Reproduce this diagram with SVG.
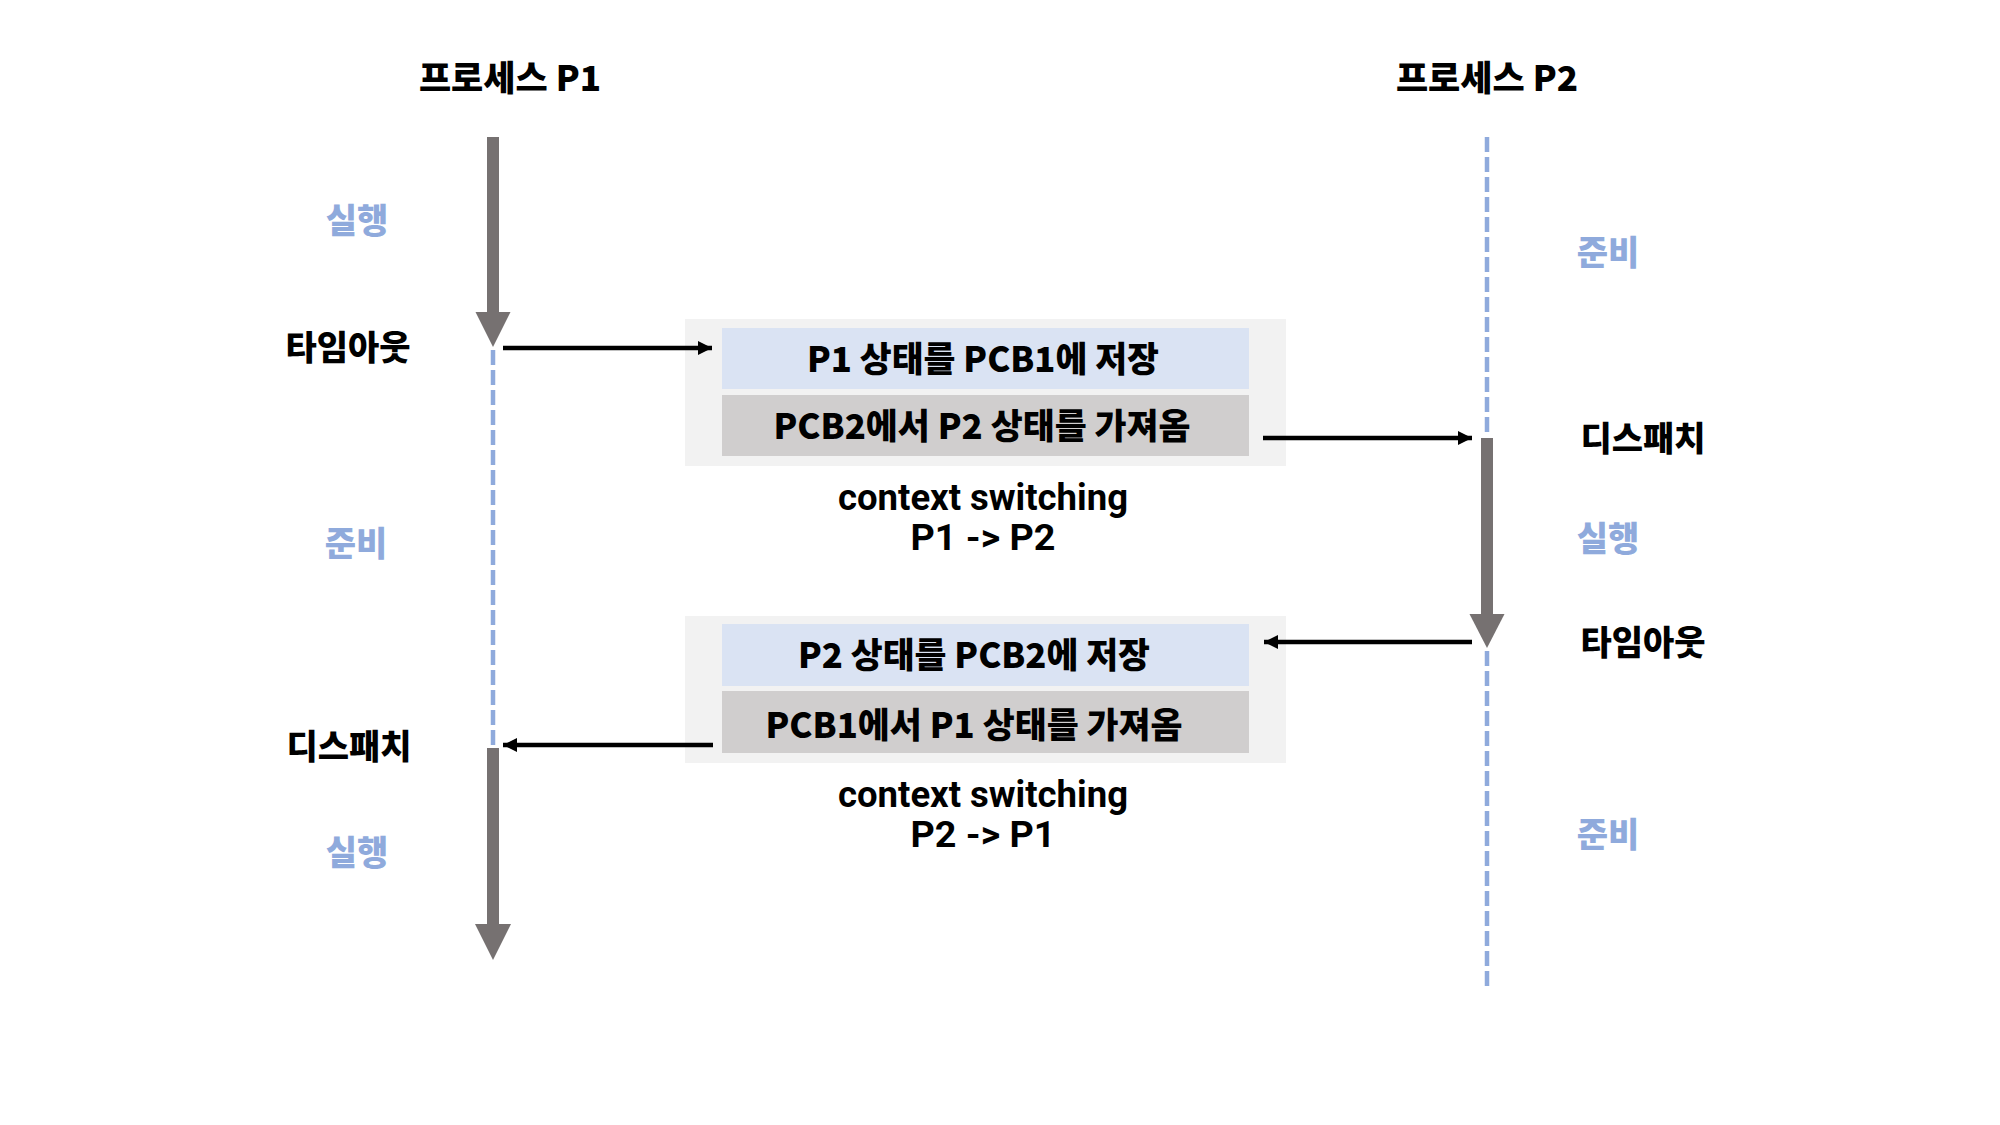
<svg xmlns="http://www.w3.org/2000/svg" width="2000" height="1125" viewBox="0 0 2000 1125">
  <defs>
    <style>
      text { font-family: "Noto Sans CJK KR", "Noto Sans", sans-serif; font-weight: 900; text-anchor: middle; dominant-baseline: central; }
      .title { font-size: 35px; fill: #000; }
      .ev { font-size: 34px; fill: #000; }
      .st { font-size: 34px; fill: #8FAADC; }
      .box { font-size: 35px; fill: #000; }
      .cs { font-family: Roboto, "Noto Sans", sans-serif; font-weight: 700; font-size: 37px; fill: #000; dominant-baseline: auto; }
      .outer { fill: #F2F2F2; }
      .save { fill: #DAE3F3; }
      .load { fill: #D0CECE; }
      .run { stroke: #767171; stroke-width: 12; fill: none; }
      .head { fill: #767171; }
      .ready { stroke: #8FAADC; stroke-width: 4.5; stroke-dasharray: 15 5; fill: none; }
      .conn { stroke: #000; stroke-width: 4.5; fill: none; marker-end: url(#ah); }
    </style>
    <marker id="ah" viewBox="0 0 10 10" refX="10" refY="5" markerUnits="userSpaceOnUse" markerWidth="15" markerHeight="14" orient="auto">
      <path d="M0,0 L10,5 L0,10 z" fill="#000"/>
    </marker>
  </defs>
  <rect width="2000" height="1125" fill="#fff"/>

  <g id="p1-lifeline">
    <line class="run" x1="493" y1="137" x2="493" y2="314"/>
    <polygon class="head" points="475.5,312 510.5,312 493,347"/>
    <line class="ready" x1="493" y1="350" x2="493" y2="746"/>
    <line class="run" x1="493" y1="748" x2="493" y2="926"/>
    <polygon class="head" points="475,924 511,924 493,960"/>
  </g>
  <g id="p2-lifeline">
    <line class="ready" x1="1487" y1="137" x2="1487" y2="436"/>
    <line class="run" x1="1487" y1="438" x2="1487" y2="616"/>
    <polygon class="head" points="1469.5,614 1504.5,614 1487,648"/>
    <line class="ready" x1="1487" y1="651" x2="1487" y2="988"/>
  </g>

  <g id="title-p1"><text class="title" x="510" y="75">프로세스 P1</text></g>
  <g id="title-p2"><text class="title" x="1487" y="75">프로세스 P2</text></g>

  <g id="p1-run1"><text class="st" x="357" y="218">실행</text></g>
  <g id="p1-timeout"><text class="ev" x="348" y="345">타임아웃</text></g>
  <g id="p1-ready"><text class="st" x="356" y="541">준비</text></g>
  <g id="p1-dispatch"><text class="ev" x="349" y="744">디스패치</text></g>
  <g id="p1-run2"><text class="st" x="357" y="850">실행</text></g>

  <g id="p2-ready1"><text class="st" x="1608" y="250">준비</text></g>
  <g id="p2-dispatch"><text class="ev" x="1643" y="436">디스패치</text></g>
  <g id="p2-run"><text class="st" x="1608" y="536">실행</text></g>
  <g id="p2-timeout"><text class="ev" x="1643" y="640">타임아웃</text></g>
  <g id="p2-ready2"><text class="st" x="1608" y="832">준비</text></g>

  <g id="cs1">
    <rect class="outer" x="685" y="319" width="601" height="147"/>
    <rect class="save" x="722" y="328" width="527" height="61"/>
    <rect class="load" x="722" y="395" width="527" height="61"/>
    <text class="box" x="983" y="356" textLength="352" lengthAdjust="spacingAndGlyphs">P1 상태를 PCB1에 저장</text>
    <text class="box" x="982" y="423" textLength="417" lengthAdjust="spacingAndGlyphs">PCB2에서 P2 상태를 가져옴</text>
    <text class="cs" x="983" y="510" textLength="290" lengthAdjust="spacingAndGlyphs">context switching</text>
    <text class="cs" x="983" y="550" textLength="145" lengthAdjust="spacingAndGlyphs">P1 -&gt; P2</text>
  </g>

  <g id="cs2">
    <rect class="outer" x="685" y="616" width="601" height="147"/>
    <rect class="save" x="722" y="624" width="527" height="62"/>
    <rect class="load" x="722" y="691" width="527" height="62"/>
    <text class="box" x="974" y="652" textLength="352" lengthAdjust="spacingAndGlyphs">P2 상태를 PCB2에 저장</text>
    <text class="box" x="974" y="722" textLength="417" lengthAdjust="spacingAndGlyphs">PCB1에서 P1 상태를 가져옴</text>
    <text class="cs" x="983" y="807" textLength="290" lengthAdjust="spacingAndGlyphs">context switching</text>
    <text class="cs" x="983" y="847" textLength="145" lengthAdjust="spacingAndGlyphs">P2 -&gt; P1</text>
  </g>

  <g id="connectors">
    <line class="conn" x1="503" y1="348" x2="712" y2="348"/>
    <line class="conn" x1="1263" y1="438" x2="1472" y2="438"/>
    <line class="conn" x1="1472" y1="642" x2="1264" y2="642"/>
    <line class="conn" x1="713" y1="745" x2="503" y2="745"/>
  </g>
</svg>
